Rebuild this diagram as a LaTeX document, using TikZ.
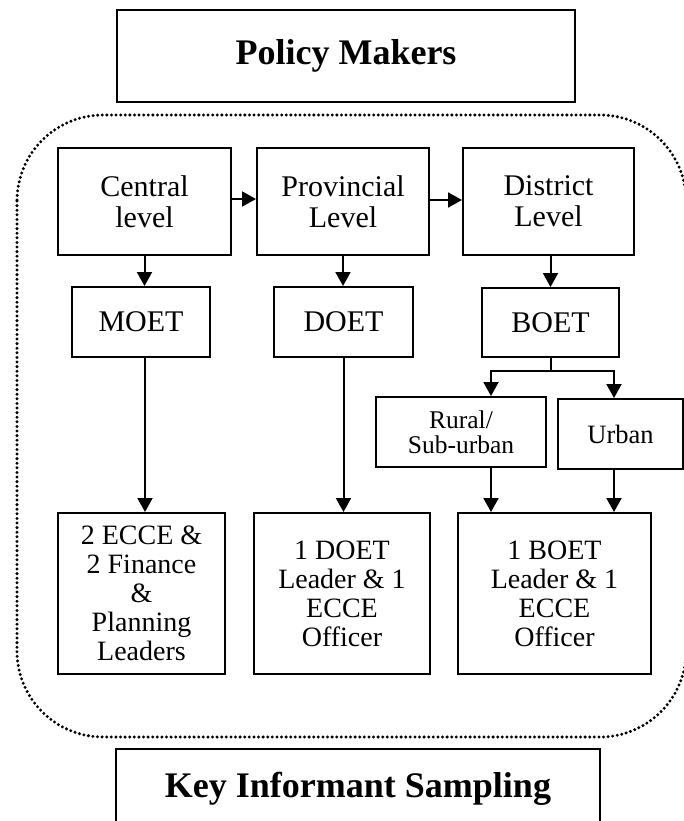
\documentclass[tikz,border=0pt]{standalone}
\usepackage{fontspec}
\setmainfont{Liberation Serif}
\usetikzlibrary{arrows.meta}
\begin{document}
\begin{tikzpicture}[x=1pt,y=-1pt,
  box/.style={draw, line width=2pt, rectangle, align=center, inner sep=0pt, font=\fontsize{30}{31}\selectfont},
  smallbox/.style={box, font=\fontsize{25.5}{25}\selectfont},
  lowbox/.style={box, font=\fontsize{28}{29}\selectfont},
  titlebox/.style={box, font=\fontsize{36}{38}\selectfont\bfseries},
  arr/.style={line width=2pt, -{Triangle[width=15pt,length=14pt]}},
  link/.style={line width=2pt},
  dotframe/.style={line width=3.3pt, line cap=round, dash pattern=on 0pt off 4.6pt, rounded corners=86pt}]
\useasboundingbox (0,0) rectangle (684,821);
\clip (0,0) rectangle (684,821);
\draw[dotframe] (17,115) rectangle (686,737);
\node[titlebox, minimum width=458pt, minimum height=92pt] (pm) at (346,56) {Policy Makers};
\node[box, minimum width=173pt, minimum height=107pt] (central) at (144.5,201.5) {Central\\level};
\node[box, minimum width=172pt, minimum height=107pt] (prov) at (343,201.5) {Provincial\\Level};
\node[box, minimum width=171pt, minimum height=107pt] (dist) at (548.5,201.5) {District\\Level};
\node[box, minimum width=138pt, minimum height=70pt] (moet) at (141,322) {MOET};
\node[box, minimum width=139pt, minimum height=70pt] (doet) at (343.5,322) {DOET};
\node[box, minimum width=137pt, minimum height=69pt] (boet) at (550.5,322.5) {BOET};
\node[smallbox, minimum width=170pt, minimum height=70pt] (rural) at (461,432) {Rural/\\Sub-urban};
\node[smallbox, minimum width=125pt, minimum height=70pt, font=\fontsize{26.5}{27}\selectfont] (urban) at (620.5,434) {Urban};
\node[lowbox, minimum width=167pt, minimum height=161pt] (b1) at (141.5,593.5) {2 ECCE \&\\2 Finance\\\&\\Planning\\Leaders};
\node[lowbox, minimum width=176pt, minimum height=161pt] (b2) at (342,593.5) {1 DOET\\Leader \& 1\\ECCE\\Officer};
\node[lowbox, minimum width=193pt, minimum height=161pt] (b3) at (554.5,593.5) {1 BOET\\Leader \& 1\\ECCE\\Officer};
\node[titlebox, minimum width=484pt, minimum height=80pt] (kis) at (358,789) {Key Informant Sampling};
% horizontal arrows
\draw[arr] ([yshift=2.5pt]central.east) -- ([yshift=2.5pt]prov.west);
\draw[arr] ([yshift=1.5pt]prov.east) -- ([yshift=1.5pt]dist.west);
% down arrows
\draw[arr] (central.south) -- (central.south |- moet.north);
\draw[arr] (prov.south) -- (prov.south |- doet.north);
\draw[arr] ([xshift=2pt]dist.south) -- ([xshift=2pt]dist.south |- boet.north);
\draw[arr] ([xshift=4pt]moet.south) -- ([xshift=4pt]moet.south |- b1.north);
\draw[arr] (doet.south) -- (doet.south |- b2.north);
% branch from BOET
\coordinate (bl) at (491,371);
\coordinate (brr) at (614,371);
\draw[link] (boet.south) -- (boet.south |- bl);
\draw[link, line cap=rect] (bl) -- (brr);
\draw[arr] (bl) -- (bl |- rural.north);
\draw[arr] (brr) -- (brr |- urban.north);
\draw[arr] (bl |- rural.south) -- (bl |- b3.north);
\draw[arr] (brr |- urban.south) -- (brr |- b3.north);
\end{tikzpicture}
\end{document}
